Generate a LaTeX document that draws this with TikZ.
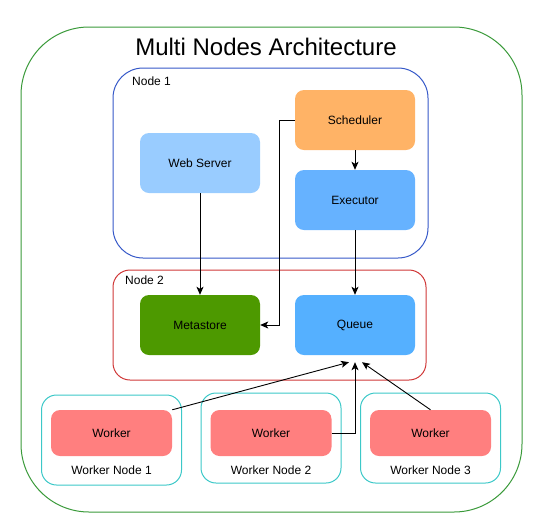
\documentclass[tikz,border=0pt]{standalone}
\usepackage{fontspec}
\setmainfont{Liberation Sans}
\usepackage{xcolor}
\usetikzlibrary{arrows.meta,positioning}
\definecolor{outergreen}{HTML}{3A9A3A}
\definecolor{nodeblue}{HTML}{3558C8}
\definecolor{nodered}{HTML}{D03838}
\definecolor{wcyan}{HTML}{3CC8C8}
\definecolor{schedfill}{HTML}{FFB366}
\definecolor{webfill}{HTML}{99CCFF}
\definecolor{execfill}{HTML}{66B2FF}
\definecolor{queuefill}{HTML}{55B0FF}
\definecolor{metafill}{HTML}{4D9900}
\definecolor{workfill}{HTML}{FF7F7F}

\begin{document}
\begin{tikzpicture}[
  x=1pt,y=-1pt,
  font=\fontsize{12}{14}\selectfont,
  group/.style={draw,line width=1pt,inner sep=0pt,outer sep=0pt},
  box/.style={rounded corners=9pt,inner sep=0pt,minimum width=120pt,minimum height=60pt,align=center},
  wbox/.style={box,fill=workfill,minimum width=121pt,minimum height=46pt},
  arr/.style={-{Stealth[length=8pt,width=7pt,inset=2pt]},line width=0.9pt,color=black}
]
\useasboundingbox (0,0) rectangle (541,531);
% groups
\node[group,draw=outergreen,rounded corners=68pt,minimum width=501pt,minimum height=485pt] (outer) at (271.5,269.5) {};
\node (title) at (266,47) {\fontsize{24}{28}\selectfont Multi Nodes Architecture};
\node[group,draw=nodeblue,rounded corners=30pt,minimum width=315pt,minimum height=190pt] (node1) at (270.5,163) {};
\node[anchor=west,inner sep=0pt] (node1lbl) at (132,81) {Node 1};
\node[group,draw=nodered,rounded corners=17pt,minimum width=313pt,minimum height=110pt] (node2) at (269.5,325) {};
\node[anchor=west,inner sep=0pt] (node2lbl) at (125,280) {Node 2};
\node[group,draw=wcyan,rounded corners=15pt,minimum width=140pt,minimum height=90pt] (wn1) at (111.5,440) {};
\node[group,draw=wcyan,rounded corners=15pt,minimum width=140pt,minimum height=90pt] (wn2) at (271,438) {};
\node[group,draw=wcyan,rounded corners=15pt,minimum width=140pt,minimum height=90pt] (wn3) at (430.5,438) {};
% services
\node[box,fill=schedfill] (sched) at (355,120) {Scheduler};
\node[box,fill=webfill] (web) at (200,163) {Web Server};
\node[box,fill=execfill] (exec) at (355,200) {Executor};
\node[box,fill=metafill] (meta) at (200,325) {Metastore};
\node[box,fill=queuefill] (queue) at (355,325) {Queue};
% workers
\node[wbox] (work1) at (111.5,433) {Worker};
\node[wbox] (work2) at (271,433) {Worker};
\node[wbox] (work3) at (430.5,433) {Worker};
\node (wn1lbl) at (111.5,470) {Worker Node 1};
\node (wn2lbl) at (271,470) {Worker Node 2};
\node (wn3lbl) at (430.5,470) {Worker Node 3};
% connectors
\coordinate (qin1) at ([xshift=-6pt,yshift=-7pt]queue.south);
\coordinate (qin2) at ([yshift=-7pt]queue.south);
\coordinate (qin3) at ([xshift=7pt,yshift=-7pt]queue.south);
\draw[arr] (web) -- (meta);
\draw[arr] (sched.west) -- ++(-15,0) |- (meta.east);
\draw[arr] (sched) -- (exec);
\draw[arr] (exec) -- (queue);
\draw[arr] (work1.north east) -- (qin1);
\draw[arr] (work2.east) -| (qin2);
\draw[arr] (work3.north) -- (qin3);
\end{tikzpicture}
\end{document}
